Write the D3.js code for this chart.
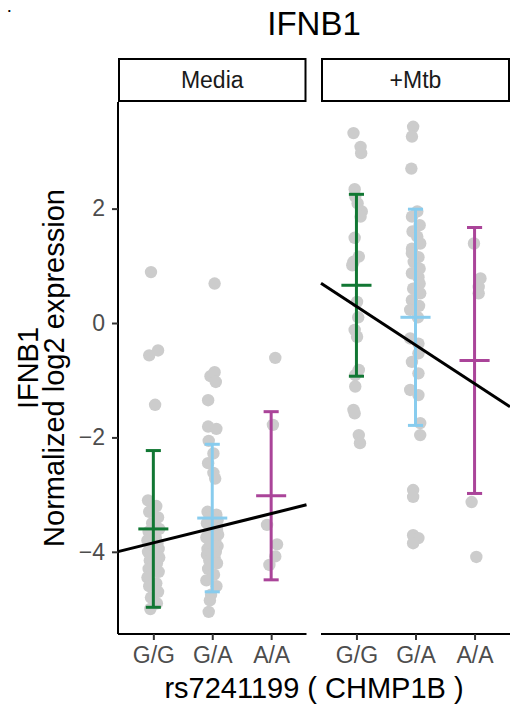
<!DOCTYPE html>
<html>
<head>
<meta charset="utf-8">
<script src="https://cdn.jsdelivr.net/npm/d3@7"></script>
<style>
  html, body { margin: 0; padding: 0; background: #fff; }
  svg { display: block; font-family: "Liberation Sans", Arial, Helvetica, sans-serif; }
</style>
</head>
<body>
<svg id="chart" width="510" height="711"></svg>
<script>
// ---------------- data ----------------
const genotypes = ["G/G", "G/A", "A/A"];
const conditions = ["Media", "+Mtb"];
const yTicks = [-4, -2, 0, 2];
const genoColors = ["#117733", "#88CCEE", "#AA4499"];

// Media points (normalized log2 expression) and horizontal jitter (category units)
const mediaGG = [0.89, -0.48, -0.565, -1.43, -3.1, -3.2, -3.3, -3.4, -3.5, -3.6, -3.65, -3.75, -3.8, -3.85, -3.9, -3.95, -4.0, -4.05, -4.1, -4.15, -4.2, -4.3, -4.35, -4.45, -4.55, -4.6, -4.7, -4.8, -4.9, -5.0];
const mediaGGJit = [-0.04, 0.08, -0.07, 0.03, -0.09, 0.05, -0.07, 0.08, -0.02, 0.1, -0.08, 0.04, -0.1, 0.07, -0.05, 0.09, -0.09, 0.02, 0.1, -0.06, 0.06, -0.08, 0.09, -0.1, 0.05, -0.07, 0.08, -0.04, 0.06, -0.05];
const mediaGA = [0.69, -0.86, -0.93, -1.03, -1.35, -1.81, -1.85, -2.06, -2.28, -2.45, -2.62, -2.72, -3.3, -3.35, -3.4, -3.45, -3.5, -3.55, -3.6, -3.65, -3.7, -3.75, -3.8, -3.85, -3.9, -3.95, -4.0, -4.05, -4.1, -4.15, -4.2, -4.3, -4.4, -4.5, -4.6, -4.75, -4.85, -5.05];
const mediaGAJit = [0.04, 0.04, -0.03, 0.06, -0.07, -0.07, 0.07, -0.06, 0.02, -0.07, 0.02, 0.05, -0.08, 0.07, -0.04, 0.09, -0.09, 0.03, 0.08, -0.06, 0.1, -0.1, 0.05, -0.03, 0.09, -0.08, 0.06, -0.09, 0.04, -0.05, 0.08, -0.07, 0.03, -0.1, 0.07, -0.02, -0.04, -0.06];
const mediaAA = [-0.61, -1.78, -3.53, -3.87, -4.08, -4.23];
const mediaAAJit = [0.07, 0.03, -0.07, 0.1, 0.07, -0.03];

// +Mtb points
const mtbGG = [3.32, 3.08, 2.97, 2.34, 2.21, 2.09, 1.95, 1.86, 1.49, 1.16, 1.07, 1.01, 0.37, 0.1, -0.12, -0.24, -0.82, -0.91, -1.11, -1.52, -1.58, -1.96, -2.10];
const mtbGGJit = [-0.05, 0.07, 0.08, -0.03, -0.02, 0.02, 0.09, 0.07, -0.03, 0.04, -0.05, -0.07, 0.01, 0.03, -0.03, 0.01, 0.04, -0.02, -0.02, -0.05, -0.03, 0.04, 0.06];
const mtbGA = [3.43, 3.26, 2.70, 1.95, 1.86, 1.71, 1.6, 1.51, 1.39, 1.3, 1.22, 1.15, 1.07, 0.95, 0.87, 0.8, 0.69, 0.6, 0.52, 0.40, 0.3, 0.23, 0.1, -0.27, -0.36, -0.53, -0.68, -0.88, -1.17, -1.26, -1.75, -1.96, -2.92, -3.04, -3.71, -3.76, -3.85];
const mtbGAJit = [-0.04, -0.06, -0.07, 0.03, -0.06, 0.07, -0.05, 0.03, 0.08, -0.06, -0.06, 0.05, -0.03, 0.07, -0.06, 0.05, 0.07, -0.04, 0.08, -0.06, 0.06, -0.09, 0.04, -0.09, 0.05, 0.05, -0.06, 0.05, -0.09, 0.05, 0.08, 0.08, -0.04, -0.04, -0.04, 0.05, -0.04];
const mtbAA = [1.39, 0.78, 0.63, 0.52, -3.13, -4.09];
const mtbAAJit = [-0.01, 0.10, 0.07, 0.07, -0.05, 0.03];

// mean and sd per genotype
const meanMedia = [-3.60, -3.41, -3.02];
const sdMedia = [1.37, 1.29, 1.47];
const meanMtb = [0.66, 0.10, -0.655];
const sdMtb = [1.59, 1.89, 2.325];

// linear fit: value = intercept + slope * genotypeCode (1,2,3)
const fitIntercept = [-4.10, 0.966];
const fitSlope = [0.256, -0.675];

const panelValues = [[mediaGG, mediaGA, mediaAA], [mtbGG, mtbGA, mtbAA]];
const panelJitter = [[mediaGGJit, mediaGAJit, mediaAAJit], [mtbGGJit, mtbGAJit, mtbAAJit]];
const panelMean = [meanMedia, meanMtb];
const panelSd = [sdMedia, sdMtb];

// ---------------- layout ----------------
const svg = d3.select("#chart");
const panelTop = 102, panelBottom = 634;
const panelX = [[118, 306.5], [321, 510]];
const y = d3.scaleLinear().domain([-5.437, 3.864]).range([panelBottom, panelTop]);
const tickCol = "#333333", labCol = "#4D4D4D";

// title
svg.append("text").attr("x", 314).attr("y", 35).attr("text-anchor", "middle")
  .attr("font-size", 33).attr("fill", "#000").text("IFNB1");
// tag
svg.append("text").attr("x", 7.5).attr("y", 12).attr("font-size", 13).attr("font-weight", "bold")
  .attr("fill", "#000").text(".");

conditions.forEach((cond, pi) => {
  const [x0, x1] = panelX[pi];
  const xPt = d3.scalePoint().domain(genotypes).range([x0, x1]).padding(0.6);
  const step = xPt.step();
  const xLin = d3.scaleLinear().domain([0.4, 3.6]).range([x0, x1]);
  const g = svg.append("g");

  // strip
  g.append("rect").attr("x", x0 + 1).attr("y", 59).attr("width", x1 - x0 - 2).attr("height", 42)
    .attr("fill", "#fff").attr("stroke", "#000").attr("stroke-width", 2);
  g.append("text").attr("x", (x0 + x1) / 2).attr("y", 88).attr("text-anchor", "middle")
    .attr("font-size", 23).attr("fill", "#1A1A1A").text(cond);

  // points
  genotypes.forEach((geno, gi) => {
    const vals = panelValues[pi][gi], jit = panelJitter[pi][gi];
    g.append("g").selectAll("circle").data(vals).join("circle")
      .attr("cx", (d, i) => xPt(geno) + jit[i] * step)
      .attr("cy", d => y(d))
      .attr("r", 6.2)
      .attr("fill", "#CCCCCC");
  });

  // error bars
  genotypes.forEach((geno, gi) => {
    const m = panelMean[pi][gi], s = panelSd[pi][gi];
    const cx = xPt(geno), col = genoColors[gi];
    const eb = g.append("g").attr("stroke", col).attr("stroke-width", 3).attr("fill", "none");
    eb.append("line").attr("x1", cx).attr("x2", cx).attr("y1", y(m + s)).attr("y2", y(m - s));
    eb.append("line").attr("x1", cx - 0.128 * step).attr("x2", cx + 0.128 * step).attr("y1", y(m + s)).attr("y2", y(m + s));
    eb.append("line").attr("x1", cx - 0.128 * step).attr("x2", cx + 0.128 * step).attr("y1", y(m - s)).attr("y2", y(m - s));
    eb.append("line").attr("x1", cx - 0.255 * step).attr("x2", cx + 0.255 * step).attr("y1", y(m)).attr("y2", y(m));
  });

  // regression line
  const fx = [0.4, 3.6];
  g.append("line")
    .attr("x1", xLin(fx[0])).attr("y1", y(fitIntercept[pi] + fitSlope[pi] * fx[0]))
    .attr("x2", xLin(fx[1])).attr("y2", y(fitIntercept[pi] + fitSlope[pi] * fx[1]))
    .attr("stroke", "#000").attr("stroke-width", 3);

  // x axis
  const xa = g.append("g").attr("transform", `translate(0,${panelBottom})`)
    .call(d3.axisBottom(xPt).tickSize(6).tickPadding(7));
  xa.select(".domain").attr("stroke", "#000").attr("stroke-width", 2)
    .attr("d", `M${x0},0H${x1}`);
  xa.selectAll(".tick line").attr("stroke", tickCol).attr("stroke-width", 2);
  xa.selectAll(".tick text").attr("font-size", 23).attr("fill", labCol)
    .attr("font-family", "Liberation Sans, Arial, sans-serif").attr("dy", "0.71em");

  // y axis only on first panel
  if (pi === 0) {
    const ya = g.append("g").attr("transform", `translate(${x0},0)`)
      .call(d3.axisLeft(y).tickValues(yTicks).tickSize(6).tickPadding(7)
        .tickFormat(d => d < 0 ? "\u2212" + Math.abs(d) : String(d)));
    ya.select(".domain").attr("stroke", "#000").attr("stroke-width", 2)
      .attr("d", `M0,${panelTop}V${panelBottom}`);
    ya.selectAll(".tick line").attr("stroke", tickCol).attr("stroke-width", 2);
    ya.selectAll(".tick text").attr("font-size", 23).attr("fill", labCol)
      .attr("font-family", "Liberation Sans, Arial, sans-serif");
  }
});

// axis titles
svg.append("text").attr("x", 314).attr("y", 698).attr("text-anchor", "middle")
  .attr("font-size", 29).attr("fill", "#000").text("rs7241199 ( CHMP1B )");
const yt = svg.append("text").attr("transform", `translate(0,368) rotate(-90)`)
  .attr("text-anchor", "middle").attr("font-size", 29).attr("fill", "#000");
yt.append("tspan").attr("x", 0).attr("y", 38).text("IFNB1");
yt.append("tspan").attr("x", 0).attr("y", 64).text("Normalized log2 expression");
</script>
</body>
</html>
